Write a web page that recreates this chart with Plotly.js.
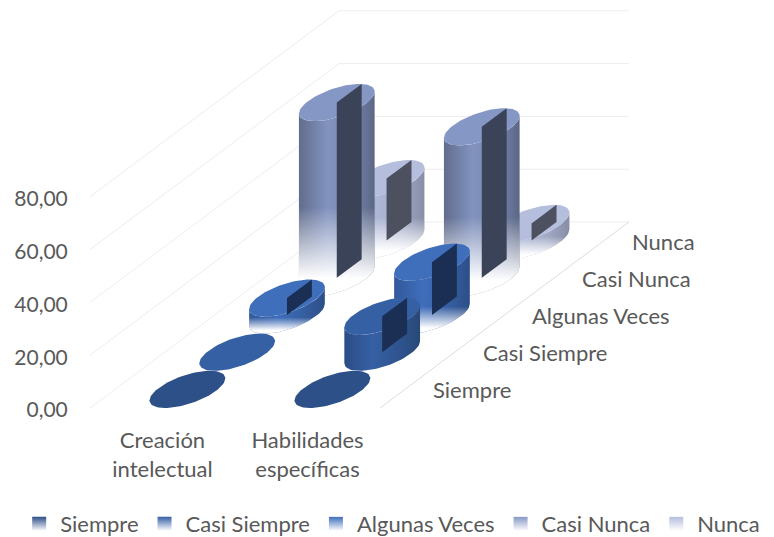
<!DOCTYPE html>
<html>
<head>
<meta charset="utf-8">
<script src="https://cdn.plot.ly/plotly-3.0.1.min.js"></script>
<style>html,body{margin:0;padding:0;background:#fff;overflow:hidden}</style>
</head>
<body>
<div id="chart" style="width:774px;height:537px;overflow:hidden"></div>
<script>
// Survey answers by competence, shown as an oblique 3D cylinder chart.
const categories = ['Creación<br>intelectual', 'Habilidades<br>específicas'];
const seriesNames = ['Siempre', 'Casi Siempre', 'Algunas Veces', 'Casi Nunca', 'Nunca'];
const siempre = [0, 0];
const casiSiempre = [0, 13.6];
const algunasVeces = [6.4, 20];
const casiNunca = [66.4, 57.2];
const nunca = [23.5, 6.5];
const valueTicks = [0, 20, 40, 60, 80];

const seriesValues = [siempre, casiSiempre, algunasVeces, casiNunca, nunca];

// Colours per series: cap, side shading (left, light, mid, right), centre panel.
const capColors = ['#2e5089', '#3660a4', '#3f6ebb', '#8597c5', '#b5bedd'];
const sideColors = [
  ['#24406e', '#2e5089', '#2a4a80', '#223c68'],
  ['#2b4d85', '#3660a4', '#2f5590', '#284878'],
  ['#32599a', '#3f6ebb', '#365fa2', '#2d4f88'],
  ['#616d8c', '#8293bf', '#7786ae', '#5c6785'],
  ['#969db8', '#aeb7d6', '#a2aac6', '#868da6']
];
const panelColors = ['#1b2f54', '#1b2f54', '#1b2f54', '#3a4358', '#4d505f'];
const legendColors = ['#2e5089', '#3660a4', '#3f6ebb', '#8597c5', '#b5bedd'];
// Share of each cylinder's height that dissolves into the background at its foot.
const fadeShares = [0, 0, 0.3, 0.42, 0.42];

// Oblique projection, in axis units: one series step back in depth moves
// the point right along x and up along y.
const depthX = 0.3434, depthY = 14.09;
const capWidth = 0.42, capSkew = 0.31;

const project = (cat, depth, value) => ({
  x: cat + depth * depthX,
  y: value + depth * depthY
});

function ringPoint(centre, t) {
  return {
    x: centre.x + 0.5 * Math.cos(t) * capWidth + 0.5 * Math.sin(t) * capSkew,
    y: centre.y + 0.5 * Math.sin(t) * depthY
  };
}

const tangent = Math.atan2(capSkew, capWidth);

function arcPoints(centre, from, to, n) {
  const out = [];
  for (let i = 0; i <= n; i++) out.push(ringPoint(centre, from + (to - from) * i / n));
  return out;
}

const polygon = (pts, extra) => Object.assign({
  x: pts.map(p => p.x),
  y: pts.map(p => p.y),
  mode: 'lines',
  fill: 'toself',
  line: {width: 0},
  hoverinfo: 'skip',
  showlegend: false
}, extra);

const traces = [];

// Legend entries
seriesNames.forEach((name, s) => {
  traces.push({
    x: [null], y: [null],
    name: name,
    mode: 'markers',
    marker: {symbol: 'square', size: 14, color: legendColors[s],
             gradient: {type: 'vertical', color: '#ffffff'}},
    hoverinfo: 'skip'
  });
});

// Gridlines: slanted across the left side, level along the back wall
const seriesCount = seriesNames.length;
const catCount = categories.length;
valueTicks.forEach(v => {
  const a = project(0, 0, v), b = project(0, seriesCount, v), c = project(catCount, seriesCount, v);
  traces.push({
    x: [a.x, b.x, c.x], y: [a.y, b.y, c.y],
    mode: 'lines', line: {color: '#ededed', width: 1},
    hoverinfo: 'skip', showlegend: false
  });
});
{
  const a = project(catCount, 0, 0), b = project(catCount, seriesCount, 0);
  traces.push({
    x: [a.x, b.x], y: [a.y, b.y],
    mode: 'lines', line: {color: '#dcdcdc', width: 1},
    hoverinfo: 'skip', showlegend: false
  });
}

// Cylinders, painted from the back row forward
for (let s = seriesCount - 1; s >= 0; s--) {
  seriesValues[s].forEach((value, c) => {
    const base = project(c + 0.5, s + 0.5, 0);
    const top = project(c + 0.5, s + 0.5, value);
    if (value > 0) {
      const topArc = arcPoints(top, tangent - Math.PI, tangent, 40);
      const baseArc = arcPoints(base, tangent, tangent - Math.PI, 40);
      const body = topArc.concat(baseArc);
      const left = ringPoint(top, tangent - Math.PI).x;
      const right = ringPoint(top, tangent).x;
      const sc = sideColors[s];
      traces.push(polygon(body, {
        fillgradient: {
          type: 'horizontal', start: left, stop: right,
          colorscale: [[0, sc[0]], [0.38, sc[1]], [0.7, sc[2]], [1, sc[3]]]
        }
      }));
      if (fadeShares[s] > 0) {
        const lowest = base.y - 0.5 * depthY;
        const span = value + depthY;
        traces.push(polygon(body, {
          fillgradient: {
            type: 'vertical', start: lowest, stop: lowest + fadeShares[s] * span,
            colorscale: [[0, 'rgba(255,255,255,1)'], [0.2, 'rgba(255,255,255,1)'], [1, 'rgba(255,255,255,0)']]
          }
        }));
      }
    }
    traces.push(polygon(arcPoints(top, 0, 2 * Math.PI, 80), {fillcolor: capColors[s]}));
    if (value > 0) {
      const back = {x: 0.5 * depthX, y: 0.5 * depthY};
      traces.push(polygon([
        {x: top.x, y: top.y},
        {x: top.x + back.x, y: top.y + back.y},
        {x: base.x + back.x, y: base.y + back.y},
        {x: base.x, y: base.y},
        {x: top.x, y: top.y}
      ], {fillcolor: panelColors[s]}));
    }
  });
}

// Series names along the right edge of the floor
const depthLabels = seriesNames.map((name, s) => {
  const p = project(catCount, s + 0.5, 0);
  return {
    x: p.x, y: p.y, text: name, showarrow: false,
    xanchor: 'left', yanchor: 'middle', xshift: 26, yshift: -0.5,
    font: {family: 'Lato', size: 22, color: '#595959'}
  };
});

const layout = {
  width: 774, height: 555,
  margin: {l: 90, r: 0, t: 0, b: 147, pad: 0},
  paper_bgcolor: '#ffffff',
  plot_bgcolor: 'rgba(0,0,0,0)',
  separators: ',.',
  font: {family: 'Lato', size: 22, color: '#595959'},
  hovermode: false,
  xaxis: {
    range: [0, 684 / 145],
    showgrid: false, zeroline: false, showline: false,
    tickmode: 'array',
    tickvals: categories.map((_, i) => i + 0.5),
    ticktext: categories,
    ticks: 'outside', ticklen: 13, tickcolor: 'rgba(0,0,0,0)',
    tickangle: 0
  },
  yaxis: {
    range: [0, 408 / 2.64],
    showgrid: false, zeroline: false, showline: false,
    tickmode: 'array',
    tickvals: valueTicks,
    tickformat: '.2f',
    ticks: 'outside', ticklen: 17, tickcolor: 'rgba(0,0,0,0)',
    tickfont: {family: 'Lato', size: 21, color: '#595959'},
    ticklabelshift: 2
  },
  legend: {
    orientation: 'h',
    x: -0.105, xanchor: 'left',
    y: -0.233, yanchor: 'top',
    itemwidth: 32,
    bgcolor: 'rgba(0,0,0,0)',
    font: {family: 'Lato', size: 22, color: '#595959'}
  },
  annotations: depthLabels
};

Plotly.newPlot('chart', traces, layout, {displayModeBar: false, staticPlot: true});
</script>
</body>
</html>
